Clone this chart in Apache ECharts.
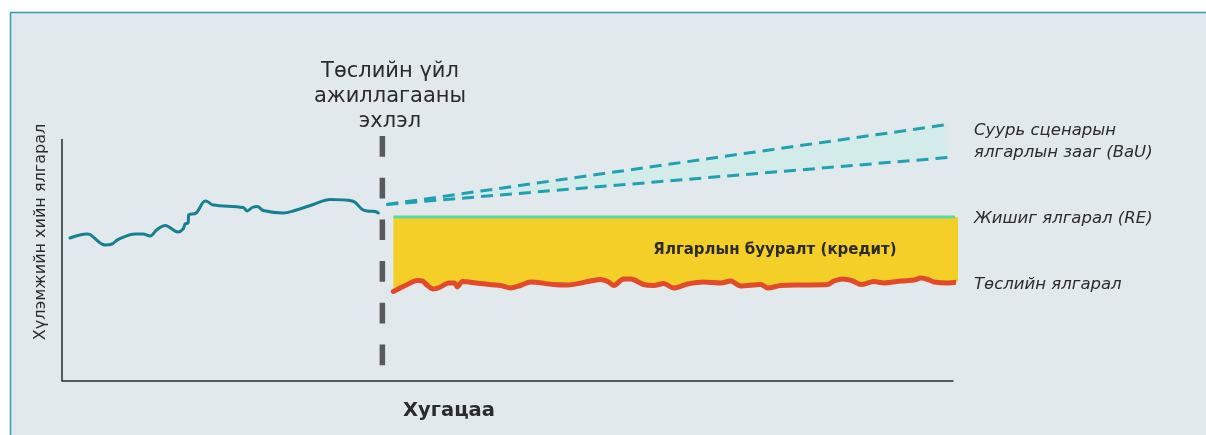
<!DOCTYPE html>
<html>
<head>
<meta charset="utf-8">
<script src="https://cdn.jsdelivr.net/npm/echarts@6/dist/echarts.min.js"></script>
<style>
html,body{margin:0;padding:0;background:#ffffff;}
#chart{width:1206px;height:435px;}
</style>
</head>
<body>
<div id="chart"></div>
<script>
// Historical emissions before the project start (time, emissions)
const historyData = [
  [0.8,28.5],[2.5,29.3],[2.8,29.2],[4.3,27.1],[5.0,27.3],[5.6,28.2],[7.3,29.3],[8.1,29.3],
  [8.8,28.9],[9.5,30.2],[10.3,31.0],[11.6,29.7],[12.1,30.3],[12.3,31.3],[12.6,31.5],[12.65,33.1],
  [13.4,33.5],[14.3,35.9],[14.6,35.7],[15.1,35.1],[18.1,34.6],[18.5,33.9],[19.0,34.6],[19.5,34.8],
  [20.1,34.0],[22.1,33.5],[23.1,33.9],[25.1,35.2],[26.8,36.2],[29.0,35.9],[30.0,34.2],[30.5,33.9],
  [31.3,33.8],[31.6,33.5]
];
// Project emissions (red)
const projectData = [
  [33.1,17.8],[34.3,19.0],[35.5,20.0],[36.0,19.9],[36.5,19.0],[37.1,18.3],[37.8,18.7],[38.6,19.5],
  [39.2,19.5],[39.5,18.7],[40.0,19.8],[41.8,19.4],[43.8,19.0],[44.8,18.5],[45.8,19.0],[46.8,19.7],
  [49.1,19.2],[50.5,19.1],[52.8,19.9],[53.8,20.2],[54.6,19.7],[55.1,19.0],[56.1,20.3],[56.8,20.3],
  [58.1,19.2],[59.1,19.0],[60.1,19.4],[61.1,18.5],[62.5,19.3],[64.1,19.7],[65.8,19.5],[66.8,19.9],
  [67.8,18.9],[69.8,19.2],[70.5,18.5],[71.8,19.0],[73.8,19.1],[76.5,19.2],[77.1,19.9],[78.0,20.3],
  [79.0,19.9],[79.8,19.2],[81.1,19.8],[82.1,19.5],[83.8,19.9],[85.1,20.1],[85.8,20.5],[86.5,20.2],
  [87.1,19.7],[88.5,19.5],[89.5,19.7]
];
// Reference emissions (RE) level
const referenceLevel = 32.7;
// Baseline (BaU) range: lower and upper bound
const bauLower = [[32.4,35.2],[88.5,44.6]];
const bauUpper = [[32.4,35.2],[88.5,51.2]];
// Project start marker
const projectStartX = 32.0;
const projectStartSpan = [48.9, 2.7];

const labels = {
  start: 'Төслийн үйл\nажиллагааны\nэхлэл',
  credit: 'Ялгарлын бууралт (кредит)',
  bau: 'Суурь сценарын\nялгарлын зааг (BaU)',
  re: 'Жишиг ялгарал (RE)',
  project: 'Төслийн ялгарал',
  yName: 'Хүлэмжийн хийн ялгарал',
  xName: 'Хугацаа'
};

const FONT = '"DejaVu Sans", sans-serif';
const TXT = '#2b2b2b';

const referenceData = [[projectData[0][0], referenceLevel], [projectData[projectData.length - 1][0], referenceLevel]];
const creditPolygon = projectData.concat(referenceData.slice().reverse());
const bauPolygon = bauLower.concat(bauUpper.slice().reverse());
const startLine = projectStartSpan.map(y => [projectStartX, y]);

function polygonSeries(points, color, z) {
  return {
    type: 'custom', z: z, silent: true, clip: false,
    data: [0],
    renderItem: function (params, api) {
      if (params.dataIndex !== 0) return;
      return {
        type: 'polygon',
        shape: {points: points.map(p => api.coord(p))},
        style: {fill: color}
      };
    }
  };
}

const chart = echarts.init(document.getElementById('chart'), null, {renderer: 'canvas'});
chart.setOption({
  backgroundColor: '#ffffff',
  animation: false,
  grid: {left: 62, right: 253, top: 139.5, bottom: 54.5},
  xAxis: {
    type: 'value', min: 0, max: 89,
    axisLine: {show: true, lineStyle: {color: '#2a2a2a', width: 1.5}},
    axisTick: {show: false}, axisLabel: {show: false}, splitLine: {show: false}
  },
  yAxis: {
    type: 'value', min: 0, max: 48.2,
    axisLine: {show: true, lineStyle: {color: '#2a2a2a', width: 1.5}},
    axisTick: {show: false}, axisLabel: {show: false}, splitLine: {show: false}
  },
  graphic: [
    {type: 'rect', z: -100, silent: true,
     shape: {x: 10.5, y: 12.5, width: 1300, height: 500},
     style: {fill: '#e2e9ec', stroke: '#2f9db0', lineWidth: 1.5}},
    {type: 'text', x: 390, y: 97, style: {text: labels.start, font: '21px ' + FONT, fill: TXT,
      align: 'center', verticalAlign: 'middle', lineHeight: 25}},
    {type: 'text', x: 775, y: 250.5, z: 10, style: {text: labels.credit, font: 'bold 15px ' + FONT, fill: TXT,
      align: 'center', verticalAlign: 'middle'}},
    {type: 'text', x: 974, y: 141.5, style: {text: labels.bau, font: 'italic 16.5px ' + FONT, fill: TXT,
      align: 'left', verticalAlign: 'middle', lineHeight: 22}},
    {type: 'text', x: 974, y: 219, style: {text: labels.re, font: 'italic 16.5px ' + FONT, fill: TXT,
      align: 'left', verticalAlign: 'middle'}},
    {type: 'text', x: 974, y: 285, style: {text: labels.project, font: 'italic 16.5px ' + FONT, fill: TXT,
      align: 'left', verticalAlign: 'middle'}},
    {type: 'text', x: 40.5, y: 232, rotation: Math.PI / 2, style: {text: labels.yName, font: '16px ' + FONT, fill: TXT,
      align: 'center', verticalAlign: 'middle'}},
    {type: 'text', x: 449, y: 411, style: {text: labels.xName, font: 'bold 19.5px ' + FONT, fill: TXT,
      align: 'center', verticalAlign: 'middle'}}
  ],
  series: [
    polygonSeries(bauPolygon, '#d3ebe9', 2),
    {type: 'line', data: bauLower, symbol: 'none', clip: false, z: 4,
     lineStyle: {color: '#22a0b3', width: 3, type: [12, 7]}},
    {type: 'line', data: bauUpper, symbol: 'none', clip: false, z: 4,
     lineStyle: {color: '#22a0b3', width: 3, type: [12, 7]}},
    polygonSeries(creditPolygon, '#f4cf27', 2),
    {type: 'line', data: referenceData, symbol: 'none', clip: false, z: 5,
     lineStyle: {color: '#5fd7a2', width: 3}},
    {type: 'line', data: projectData, symbol: 'none', clip: false, z: 6, smooth: 0.3,
     lineStyle: {color: '#e14a2b', width: 5, cap: 'round', join: 'round'}},
    {type: 'line', data: historyData, symbol: 'none', clip: false, z: 6, smooth: 0.35,
     lineStyle: {color: '#177f92', width: 3, cap: 'round', join: 'round'}},
    {type: 'line', data: startLine, symbol: 'none', clip: false, z: 7,
     lineStyle: {color: '#58595b', width: 5.5, type: [20.7, 21]}}
  ]
});
</script>
</body>
</html>
